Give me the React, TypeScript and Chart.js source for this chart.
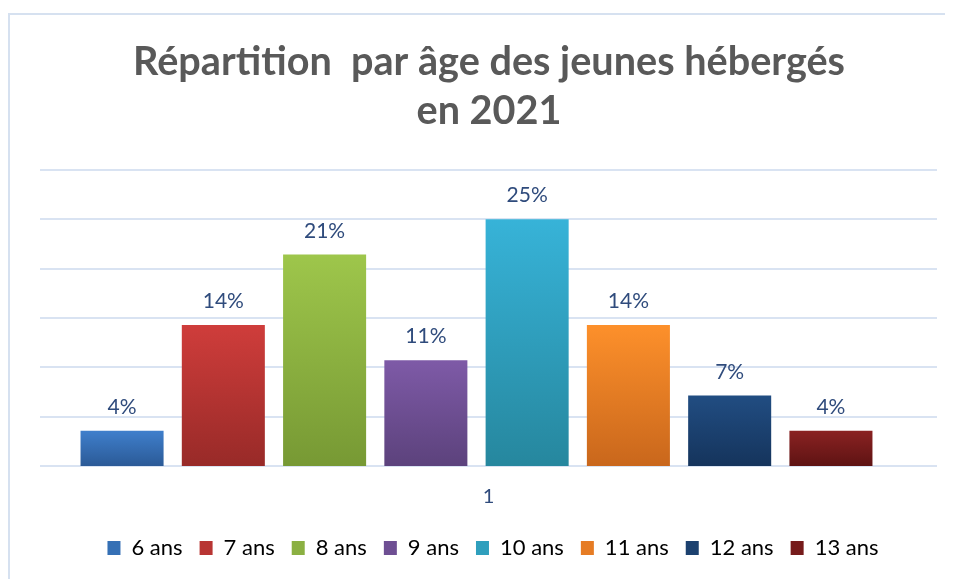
import React, { useEffect, useRef } from "react";
import { Chart, registerables } from "chart.js";

Chart.register(...registerables);

const categories = ["1"];
const seriesNames = ["6 ans", "7 ans", "8 ans", "9 ans", "10 ans", "11 ans", "12 ans", "13 ans"];
const seriesValues = [3.57, 14.29, 21.43, 10.71, 25.0, 14.29, 7.14, 3.57];
const yTickValues = [0, 5, 10, 15, 20, 25, 30];
const titleLines = ["Répartition  par âge des jeunes hébergés", "en 2021"];

const topColors = ["#3f7fcc", "#cf3d3b", "#9ec64b", "#7e5aa7", "#37b3d8", "#fd902b", "#214d82", "#8a2222"];
const bottomColors = ["#2b5a97", "#982a28", "#779934", "#5c427c", "#26879e", "#c9671c", "#15345c", "#5e1313"];
const midColors = ["#3570b5", "#b83533", "#8bb042", "#6e4f93", "#2f9fbd", "#e67c24", "#1c416f", "#761b1b"];

const FONT = "Lato, 'Noto Sans', sans-serif";
const TEXT_BLUE = "#2f4b7c";

const titlePlugin = {
  id: "customTitle",
  afterDraw(chart: any) {
    const ctx = chart.ctx;
    ctx.save();
    ctx.font = `bold 40px ${FONT}`;
    ctx.fillStyle = "#595959";
    ctx.textAlign = "center";
    ctx.textBaseline = "alphabetic";
    const w = ctx.measureText(titleLines[0]).width;
    const s = Math.min(1, 712 / w);
    const cx = 479;
    const baselines = [60, 109];
    titleLines.forEach((line, i) => {
      ctx.save();
      ctx.translate(cx, baselines[i]);
      ctx.scale(s, 1);
      ctx.fillText(line, 0, 0);
      ctx.restore();
    });
    ctx.restore();
  },
};

const gridPlugin = {
  id: "extendedGrid",
  beforeDatasetsDraw(chart: any) {
    const ctx = chart.ctx;
    const area = chart.chartArea;
    const y = chart.scales.y;
    ctx.save();
    ctx.strokeStyle = "#d9e3f2";
    ctx.lineWidth = 2;
    yTickValues.forEach((v) => {
      const py = Math.round(y.getPixelForValue(v));
      ctx.beginPath();
      ctx.moveTo(area.left, py);
      ctx.lineTo(area.right + 24, py);
      ctx.stroke();
    });
    ctx.restore();
  },
};

const labelPlugin = {
  id: "valueLabels",
  afterDatasetsDraw(chart: any) {
    const ctx = chart.ctx;
    ctx.save();
    ctx.font = `21px ${FONT}`;
    ctx.fillStyle = TEXT_BLUE;
    ctx.textAlign = "center";
    ctx.textBaseline = "alphabetic";
    chart.data.datasets.forEach((ds: any, i: number) => {
      const meta = chart.getDatasetMeta(i);
      meta.data.forEach((el: any, j: number) => {
        const v = ds.data[j];
        ctx.fillText(Math.round(v) + "%", el.x, el.y - 17);
      });
    });
    ctx.restore();
  },
};

const legendShiftPlugin = {
  id: "legendShift",
  afterLayout(chart: any) {
    const lg = chart.legend;
    if (!lg) return;
    lg.left += 16.5;
    lg.right += 16.5;
  },
};

export default function App() {
  const ref = useRef<HTMLCanvasElement | null>(null);

  useEffect(() => {
    if (!ref.current) return;
    const datasets = seriesNames.map((name, i) => ({
      label: name,
      data: [seriesValues[i]],
      backgroundColor: (c: any) => {
        const chart = c.chart;
        const yScale = chart.scales && chart.scales.y;
        if (!chart.chartArea || !yScale) return midColors[i];
        const yTop = yScale.getPixelForValue(seriesValues[i]);
        const yBase = yScale.getPixelForValue(0);
        if (!isFinite(yTop) || !isFinite(yBase) || yTop === yBase) return midColors[i];
        const g = chart.ctx.createLinearGradient(0, yTop, 0, yBase);
        g.addColorStop(0, topColors[i]);
        g.addColorStop(1, bottomColors[i]);
        return g;
      },
      borderWidth: 0,
      categoryPercentage: 0.928,
      barPercentage: 0.82,
    }));

    const chart = new Chart(ref.current, {
      type: "bar",
      data: { labels: categories, datasets },
      options: {
        animation: false,
        responsive: false,
        maintainAspectRatio: false,
        layout: { padding: { top: 155, left: 30, right: 40, bottom: 10 } },
        plugins: {
          title: { display: false },
          tooltip: { enabled: false },
          legend: {
            display: true,
            position: "bottom",
            labels: {
              boxWidth: 13,
              boxHeight: 14,
              padding: 17,
              color: TEXT_BLUE,
              font: { size: 22, family: FONT },
              generateLabels: () =>
                seriesNames.map((n, i) => ({
                  text: n,
                  fillStyle: midColors[i],
                  strokeStyle: midColors[i],
                  lineWidth: 0,
                  hidden: false,
                  datasetIndex: i,
                })),
            },
          },
        },
        scales: {
          x: {
            grid: { display: false, drawTicks: false },
            border: { display: false },
            ticks: {
              color: TEXT_BLUE,
              font: { size: 20, family: FONT },
              padding: 19,
              labelOffset: 12,
            },
            afterFit: (scale: any) => {
              scale.height = scale.height - 8;
            },
          },
          y: {
            min: 0,
            max: 30,
            ticks: { display: false, stepSize: 5 },
            grid: { display: false, drawTicks: false },
            border: { display: false },
          },
        },
      },
      plugins: [gridPlugin, labelPlugin, titlePlugin, legendShiftPlugin],
    });
    return () => chart.destroy();
  }, []);

  return (
    <div style={{ paddingTop: 5 }}>
      <div
        style={{
          width: 943,
          height: 564,
          borderLeft: "2px solid #d6e1f0",
          borderTop: "2px solid #d6e1f0",
          background: "#ffffff",
        }}
      >
        <canvas ref={ref} width={943} height={564} style={{ display: "block" }} />
      </div>
    </div>
  );
}
